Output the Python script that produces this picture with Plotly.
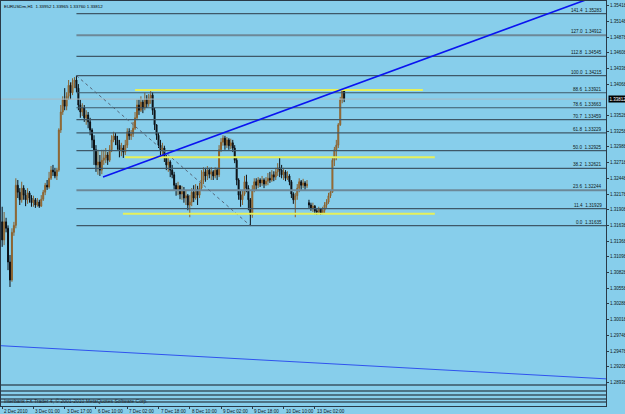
import plotly.graph_objects as go

# ---------------- data ----------------
x_tick_index = [0, 16, 32, 48, 64, 80, 96, 112, 128, 144, 160]
x_tick_text = ["2 Dec 2010", "3 Dec 01:00", "3 Dec 17:00", "6 Dec 10:00", "7 Dec 02:00",
               "7 Dec 18:00", "8 Dec 10:00", "9 Dec 02:00", "9 Dec 18:00", "10 Dec 10:00",
               "13 Dec 02:00"]

y_ticks = [1.35418, 1.35148, 1.34878, 1.34608, 1.34338, 1.34068, 1.33528, 1.33258,
           1.32988, 1.32718, 1.32448, 1.32178, 1.31908, 1.31638, 1.31368, 1.31098,
           1.30828, 1.30558, 1.30288, 1.30018, 1.29748, 1.29478, 1.29208, 1.28938]

closes = [1.3139, 1.3170, 1.3159, 1.3101, 1.3070, 1.3152, 1.3164, 1.3233, 1.3221, 1.3208,
          1.3228, 1.3216, 1.3208, 1.3220, 1.3211, 1.3203, 1.3208, 1.3199, 1.3204, 1.3197,
          1.3209, 1.3221, 1.3233, 1.3230, 1.3245, 1.3259, 1.3256, 1.3249, 1.3259, 1.3328,
          1.3359, 1.3380, 1.3369, 1.3386, 1.3405, 1.3392, 1.3410, 1.3414, 1.3400, 1.3371,
          1.3359, 1.3366, 1.3349, 1.3354, 1.3342, 1.3328, 1.3311, 1.3294, 1.3268, 1.3273,
          1.3259, 1.3276, 1.3280, 1.3285, 1.3276, 1.3294, 1.3311, 1.3318, 1.3311, 1.3302,
          1.3294, 1.3297, 1.3290, 1.3302, 1.3325, 1.3318, 1.3321, 1.3331, 1.3349, 1.3371,
          1.3362, 1.3376, 1.3366, 1.3380, 1.3373, 1.3383, 1.3388, 1.3362, 1.3337, 1.3319,
          1.3302, 1.3294, 1.3297, 1.3280, 1.3268, 1.3273, 1.3259, 1.3251, 1.3233, 1.3225,
          1.3232, 1.3218, 1.3225, 1.3211, 1.3215, 1.3199, 1.3204, 1.3221, 1.3211, 1.3225,
          1.3216, 1.3228, 1.3242, 1.3256, 1.3249, 1.3259, 1.3252, 1.3256, 1.3249, 1.3259,
          1.3251, 1.3294, 1.3307, 1.3314, 1.3302, 1.3311, 1.3301, 1.3306, 1.3297, 1.3276,
          1.3242, 1.3216, 1.3208, 1.3218, 1.3239, 1.3228, 1.3208, 1.3182, 1.3225, 1.3239,
          1.3233, 1.3242, 1.3237, 1.3242, 1.3235, 1.3240, 1.3245, 1.3242, 1.3251, 1.3247,
          1.3256, 1.3263, 1.3259, 1.3251, 1.3256, 1.3245, 1.3249, 1.3239, 1.3218, 1.3208,
          1.3215, 1.3228, 1.3239, 1.3233, 1.3237, 1.3232, 1.3235, 1.3199, 1.3194, 1.3197,
          1.3189, 1.3187, 1.3192, 1.3185, 1.3190, 1.3199, 1.3204, 1.3215, 1.3221, 1.3276,
          1.3294, 1.3302, 1.3337, 1.3380, 1.33952, 1.33812]

highs = [1.3196, 1.3187, 1.3177, 1.3164, 1.3113, 1.3159, 1.3170, 1.3245, 1.3242, 1.3228,
         1.3239, 1.3233, 1.3225, 1.3228, 1.3223, 1.3216, 1.3215, 1.3211, 1.3211, 1.3208,
         1.3216, 1.3225, 1.3237, 1.3242, 1.3256, 1.3266, 1.3268, 1.3263, 1.3263, 1.3331,
         1.3371, 1.3386, 1.3400, 1.3393, 1.3414, 1.3410, 1.3417, 1.3419, 1.34215, 1.3407,
         1.3380, 1.3374, 1.3371, 1.3362, 1.3359, 1.3349, 1.3331, 1.3319, 1.3302, 1.3294,
         1.3285, 1.3294, 1.3294, 1.3297, 1.3290, 1.3302, 1.3319, 1.3325, 1.3323, 1.3318,
         1.3311, 1.3306, 1.3302, 1.3311, 1.3331, 1.3331, 1.3328, 1.3342, 1.3359, 1.3380,
         1.3380, 1.3386, 1.3380, 1.3392, 1.3388, 1.3390, 1.3398, 1.3393, 1.3366, 1.3335,
         1.3323, 1.3311, 1.3306, 1.3301, 1.3285, 1.3281, 1.3276, 1.3268, 1.3256, 1.3237,
         1.3239, 1.3233, 1.3232, 1.3230, 1.3225, 1.3218, 1.3216, 1.3228, 1.3233, 1.3235,
         1.3232, 1.3237, 1.3259, 1.3264, 1.3263, 1.3266, 1.3263, 1.3264, 1.3259, 1.3264,
         1.3263, 1.3302, 1.3314, 1.3319, 1.3318, 1.3316, 1.3314, 1.3313, 1.3311, 1.3302,
         1.3280, 1.3245, 1.3225, 1.3225, 1.3249, 1.3251, 1.3233, 1.3211, 1.3233, 1.3245,
         1.3245, 1.3247, 1.3245, 1.3249, 1.3245, 1.3247, 1.3254, 1.3256, 1.3259, 1.3257,
         1.3263, 1.3271, 1.3280, 1.3268, 1.3263, 1.3259, 1.3257, 1.3252, 1.3242, 1.3221,
         1.3220, 1.3235, 1.3245, 1.3242, 1.3244, 1.3240, 1.3242, 1.3208, 1.3203, 1.3203,
         1.3199, 1.3194, 1.3196, 1.3194, 1.3196, 1.3204, 1.3209, 1.3220, 1.3225, 1.3281,
         1.3299, 1.3311, 1.3340, 1.3385, 1.3397, 1.33965]

lows = [1.3127, 1.3130, 1.3152, 1.3087, 1.3058, 1.3067, 1.3146, 1.3159, 1.3211, 1.3199,
        1.3203, 1.3208, 1.3197, 1.3201, 1.3203, 1.3196, 1.3196, 1.3194, 1.3196, 1.3194,
        1.3196, 1.3206, 1.3216, 1.3225, 1.3227, 1.3242, 1.3249, 1.3245, 1.3242, 1.3256,
        1.3323, 1.3354, 1.3362, 1.3362, 1.3380, 1.3381, 1.3388, 1.3400, 1.3393, 1.3362,
        1.3349, 1.3352, 1.3342, 1.3337, 1.3331, 1.3319, 1.3297, 1.3268, 1.3256, 1.3251,
        1.3249, 1.3252, 1.3268, 1.3271, 1.3268, 1.3273, 1.3290, 1.3307, 1.3302, 1.3294,
        1.3281, 1.3283, 1.3280, 1.3285, 1.3297, 1.3311, 1.3311, 1.3316, 1.3328, 1.3345,
        1.3354, 1.3359, 1.3357, 1.3362, 1.3366, 1.3368, 1.3373, 1.3354, 1.3328, 1.3311,
        1.3297, 1.3285, 1.3281, 1.3273, 1.3259, 1.3256, 1.3247, 1.3245, 1.3225, 1.3215,
        1.3216, 1.3209, 1.3208, 1.3203, 1.3199, 1.3190, 1.3178, 1.3197, 1.3204, 1.3208,
        1.3199, 1.3211, 1.3225, 1.3235, 1.3239, 1.3242, 1.3245, 1.3242, 1.3242, 1.3245,
        1.3242, 1.3247, 1.3290, 1.3301, 1.3294, 1.3297, 1.3294, 1.3295, 1.3290, 1.3271,
        1.3233, 1.3208, 1.3196, 1.3199, 1.3215, 1.3221, 1.3190, 1.31635, 1.3177, 1.3221,
        1.3225, 1.3228, 1.3230, 1.3232, 1.3228, 1.3232, 1.3233, 1.3237, 1.3239, 1.3240,
        1.3242, 1.3249, 1.3247, 1.3245, 1.3242, 1.3240, 1.3242, 1.3233, 1.3211, 1.3201,
        1.3178, 1.3208, 1.3221, 1.3225, 1.3228, 1.3225, 1.3228, 1.3194, 1.3189, 1.3187,
        1.3183, 1.3182, 1.3183, 1.3182, 1.3183, 1.3185, 1.3194, 1.3201, 1.3211, 1.3220,
        1.3266, 1.3276, 1.3297, 1.3335, 1.3374, 1.33760]

gap_opens = {0: 1.3170, 157: 1.3203}   # bars whose open differs from previous close

fib_low, fib_high = 1.31635, 1.34215
fib_anchor_bars = [38, 127]
fib_levels = [0.0, 11.4, 23.6, 38.2, 50.0, 61.8, 70.7, 78.6, 88.6, 100.0, 112.8, 127.0, 141.4]
fib_light = [23.6, 127.0]

yellow_levels = [1.3397, 1.3281, 1.3184]
yellow_from = [68, 62.8, 61.8]
yellow_to = [215.3, 221.4, 221.4]

trend_up_bars = [51.6, 245.4]
trend_up_prices = [1.3247, 1.34861]
trend_down_bars = [-0.6, 309.0]
trend_down_prices = [1.2957, 1.2900]

bottom_levels = [1.28894, 1.28791, 1.28722, 1.28653, 1.28602]
bid_price = 1.33812
title_text = "EURUSDm,H1  1.33952 1.33965 1.33760 1.33812"
copyright_text = "Interbank FX Trader 4, \u00a9 2001-2010 MetaQuotes Software Corp."

# ---------------- figure ----------------
X_MIN, X_MAX = -0.6, 309.0
Y_MIN, Y_MAX = 1.28533, 1.35499
BG = "#87CEEB"
FIB_C = "#3e5868"
FONT = "Liberation Sans"
TXT = "#101820"

bars = list(range(len(closes)))
opens = [gap_opens.get(i, closes[i - 1] if i > 0 else closes[0]) for i in bars]

fig = go.Figure()

for lv in bottom_levels:
    fig.add_trace(go.Scatter(x=[X_MIN, X_MAX], y=[lv, lv], mode="lines",
                             line=dict(color="#3a5464", width=1.6), hoverinfo="skip"))

fig.add_trace(go.Scatter(x=[X_MIN, X_MAX], y=[bid_price, bid_price], mode="lines",
                         line=dict(color="#a9b9c2", width=1), hoverinfo="skip"))

rng = fib_high - fib_low
for lv in fib_levels:
    p = fib_low + rng * lv / 100.0
    light = lv in fib_light
    fig.add_trace(go.Scatter(x=[fib_anchor_bars[0], X_MAX], y=[p, p], mode="lines",
                             line=dict(color="#6c8898" if light else FIB_C,
                                       width=2 if light else 1.2),
                             hoverinfo="skip"))
    fig.add_annotation(x=X_MAX - 0.8, y=p, xref="x", yref="y", text=f"{lv:.1f}  {p:.5f}",
                       showarrow=False, xanchor="right", yanchor="bottom", yshift=-1,
                       font=dict(size=4.6, color=TXT, family=FONT))

fig.add_trace(go.Scatter(x=fib_anchor_bars, y=[fib_high, fib_low], mode="lines",
                         line=dict(color="#55677a", width=1, dash="dot"), hoverinfo="skip"))

for lv, a, b in zip(yellow_levels, yellow_from, yellow_to):
    fig.add_trace(go.Scatter(x=[a, b], y=[lv, lv], mode="lines",
                             line=dict(color="#e6f05a", width=2), hoverinfo="skip"))

fig.add_trace(go.Candlestick(
    x=bars, open=opens, high=highs, low=lows, close=closes,
    increasing=dict(line=dict(color="#8a6230", width=1), fillcolor="#c2822e"),
    decreasing=dict(line=dict(color="#0c1014", width=1), fillcolor="#0c1014"),
    whiskerwidth=0, hoverinfo="skip"))

slope = (trend_up_prices[1] - trend_up_prices[0]) / (trend_up_bars[1] - trend_up_bars[0])
fig.add_trace(go.Scatter(x=[trend_up_bars[0], X_MAX],
                         y=[trend_up_prices[0], trend_up_prices[0] + slope * (X_MAX - trend_up_bars[0])],
                         mode="lines", line=dict(color="#0a14f0", width=1.6), hoverinfo="skip"))
fig.add_trace(go.Scatter(x=trend_down_bars, y=trend_down_prices, mode="lines",
                         line=dict(color="#2f52ee", width=1), hoverinfo="skip"))

# axis labels as text next to the axis ticks
for v in y_ticks:
    fig.add_annotation(x=1, y=v, xref="paper", yref="y", text=f"{v:.5f}", showarrow=False,
                       xanchor="left", yanchor="middle", xshift=2,
                       font=dict(size=4.5, color=TXT, family=FONT))
for xi, t in zip(x_tick_index, x_tick_text):
    fig.add_annotation(x=xi, y=0, xref="x", yref="paper", text=t, showarrow=False,
                       xanchor="left", yanchor="top", yshift=-0.5,
                       font=dict(size=4.6, color=TXT, family=FONT))

fig.add_annotation(x=0.002, y=1, xref="paper", yref="paper", text=title_text, showarrow=False,
                   xanchor="left", yanchor="top", yshift=-1,
                   font=dict(size=4.4, color="#000000", family=FONT))
fig.add_annotation(x=0.001, y=(406 - 401) / 405, xref="paper", yref="paper", text=copyright_text,
                   showarrow=False, xanchor="left", yanchor="middle",
                   font=dict(size=5, color="#1a2630", family=FONT))
fig.add_annotation(x=1, y=bid_price, xref="paper", yref="y", text=f"{bid_price:.5f}",
                   showarrow=False, xanchor="left", yanchor="middle", xshift=2,
                   bgcolor="#000000", borderpad=0.5,
                   font=dict(size=4.5, color="#ffffff", family=FONT))

fig.update_layout(
    width=625, height=414,
    margin=dict(l=1, r=19, t=1, b=8, pad=0),
    paper_bgcolor=BG, plot_bgcolor=BG,
    showlegend=False, hovermode=False,
    xaxis=dict(range=[X_MIN, X_MAX], showgrid=False, zeroline=False, rangeslider=dict(visible=False),
               tickmode="array", tickvals=x_tick_index, showticklabels=False,
               ticks="outside", ticklen=2, tickcolor="#2a3a48",
               showline=True, linecolor="#2a3a48", linewidth=1, mirror=True, automargin=False),
    yaxis=dict(range=[Y_MIN, Y_MAX], side="right", showgrid=False, zeroline=False,
               tickmode="array", tickvals=y_ticks, showticklabels=False,
               ticks="outside", ticklen=2, tickcolor="#2a3a48",
               showline=True, linecolor="#2a3a48", linewidth=1, mirror=True, automargin=False),
)

fig.write_html("out.html")
